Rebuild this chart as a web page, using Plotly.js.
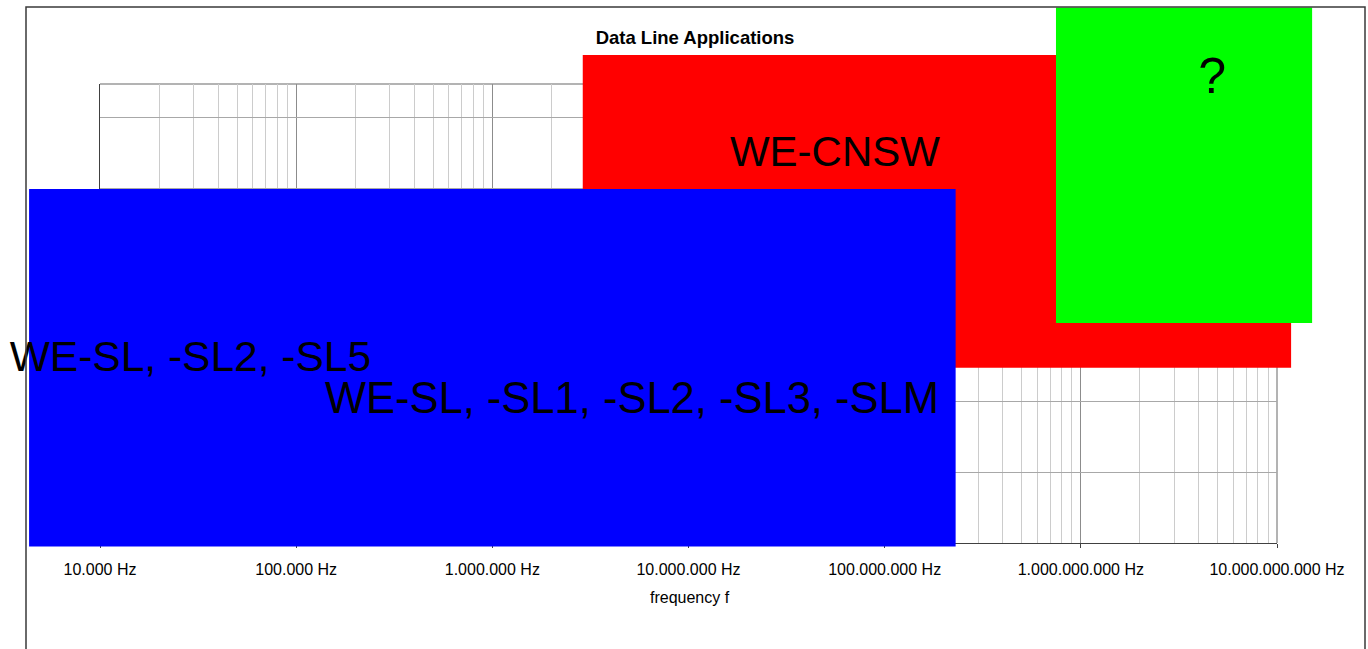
<!DOCTYPE html>
<html><head><meta charset="utf-8">
<script src="https://cdn.plot.ly/plotly-3.0.1.min.js"></script>
<style>html,body{margin:0;padding:0;background:#fff;}#chart{width:1368px;height:649px;}</style>
</head><body><div id="chart"></div>
<script>
// ---- data ----
const bandNames = ['WE-CNSW', 'WE-SL', '?'];
const bandFreqLow = [2.89e6, 4.35e3, 7.47e8];
const bandFreqHigh = [1.18e10, 2.30e8, 1.51e10];
const bandLevelLow = [2.47, -0.05, 3.10];
const bandLevelHigh = [6.88, 4.99, 7.55];
const bandColors = ['#ff0000', '#0000ff', '#00ff00'];

const labelTexts = ['WE-CNSW', '?', 'WE-SL, -SL2, -SL5', 'WE-SL, -SL1, -SL2, -SL3, -SLM'];
const labelFreq = [5.58e7, 4.67e9, 2.89e4, 5.15e6];
const labelLevel = [5.466, 6.523, 2.576, 1.99];
const labelSizes = [42, 50, 42.5, 43.5];

const tickFreqs = [1e4, 1e5, 1e6, 1e7, 1e8, 1e9, 1e10];
const tickLabels = ['10.000 Hz', '100.000 Hz', '1.000.000 Hz', '10.000.000 Hz', '100.000.000 Hz', '1.000.000.000 Hz', '10.000.000.000 Hz'];
const levelMax = 6.47;

// ---- geometry ----
const W = 1368, H = 649;
const pL = 100, pR = 1277, pT = 84, pB = 543;
const xLog = [Math.log10(tickFreqs[0]), Math.log10(tickFreqs[tickFreqs.length - 1])];
const kx = (xLog[1] - xLog[0]) / (pR - pL);
const ky = levelMax / (pB - pT);
const x2Range = [xLog[0] - pL * kx, xLog[0] + (W - pL) * kx];
const y2Range = [0 - (H - pB) * ky, levelMax + pT * ky];

const FONT = 'Liberation Sans, Arial, sans-serif';

const traces = [
  {x: [], y: [], xaxis: 'x', yaxis: 'y', type: 'scatter', mode: 'markers', hoverinfo: 'skip', showlegend: false}
];
for (let i = 0; i < bandNames.length; i++) {
  traces.push({
    type: 'scatter', mode: 'lines', xaxis: 'x2', yaxis: 'y2',
    name: bandNames[i], showlegend: false, hoverinfo: 'skip',
    x: [bandFreqLow[i], bandFreqHigh[i], bandFreqHigh[i], bandFreqLow[i], bandFreqLow[i]],
    y: [bandLevelLow[i], bandLevelLow[i], bandLevelHigh[i], bandLevelHigh[i], bandLevelLow[i]],
    fill: 'toself', fillcolor: bandColors[i],
    line: {width: 0, color: bandColors[i]}
  });
}
traces.push({
  type: 'scatter', mode: 'text', xaxis: 'x2', yaxis: 'y2', showlegend: false, hoverinfo: 'skip',
  x: labelFreq, y: labelLevel, text: labelTexts, textposition: 'middle center',
  textfont: {family: FONT, size: labelSizes, color: '#000'}, cliponaxis: false
});

const layout = {
  width: W, height: H,
  margin: {l: 0, r: 0, t: 0, b: 0},
  paper_bgcolor: '#ffffff', plot_bgcolor: 'rgba(0,0,0,0)',
  showlegend: false,
  title: {text: 'Data Line Applications', x: 695 / W, xanchor: 'center', xref: 'paper',
          y: 1 - 38 / H, yanchor: 'middle', yref: 'container',
          font: {family: FONT, size: 18.5, weight: 'bold', color: '#000'}},
  xaxis: {
    type: 'log', domain: [pL / W, pR / W], range: xLog, anchor: 'y',
    tickmode: 'array', tickvals: tickFreqs, ticktext: tickLabels,
    ticks: 'outside', ticklen: 4, tickcolor: '#404040', ticklabelstandoff: 7,
    tickfont: {family: FONT, size: 16, color: '#000'},
    showgrid: true, gridcolor: '#8c8c8c', gridwidth: 1,
    minor: {dtick: 'D1', showgrid: true, gridcolor: '#cccccc', gridwidth: 1, ticklen: 0},
    showline: true, linecolor: '#404040', linewidth: 1.3, zeroline: false, fixedrange: true
  },
  yaxis: {
    domain: [(H - pB) / H, (H - pT) / H], range: [0, levelMax], anchor: 'x',
    tick0: 0, dtick: 1, showticklabels: false, ticks: '',
    showgrid: true, gridcolor: '#a8a8a8', gridwidth: 1,
    showline: true, linecolor: '#404040', linewidth: 1.3, zeroline: false, fixedrange: true
  },
  xaxis2: {type: 'log', domain: [0, 1], range: x2Range, anchor: 'y2', visible: false, fixedrange: true},
  yaxis2: {domain: [0, 1], range: y2Range, anchor: 'x2', visible: false, fixedrange: true},
  annotations: [
    {text: 'frequency f', xref: 'paper', yref: 'paper', x: 690 / W, y: (H - 597) / H,
     xanchor: 'center', yanchor: 'middle', showarrow: false,
     font: {family: FONT, size: 16, color: '#000'}}
  ],
  shapes: [
    {type: 'line', xref: 'x domain', yref: 'y domain', x0: 0, x1: 1, y0: 1, y1: 1, layer: 'below', line: {color: '#9a9a9a', width: 1.3}},
    {type: 'line', xref: 'x domain', yref: 'y domain', x0: 1, x1: 1, y0: 0, y1: 1, layer: 'below', line: {color: '#8a8a8a', width: 1.3}},
    {type: 'rect', xref: 'paper', yref: 'paper', x0: 26 / W, x1: 1365 / W, y0: -0.05, y1: (H - 7) / H, layer: 'above', line: {color: '#3a3a3a', width: 1.5}}
  ]
};

Plotly.newPlot('chart', traces, layout, {displayModeBar: false, staticPlot: true});
</script>
</body></html>
